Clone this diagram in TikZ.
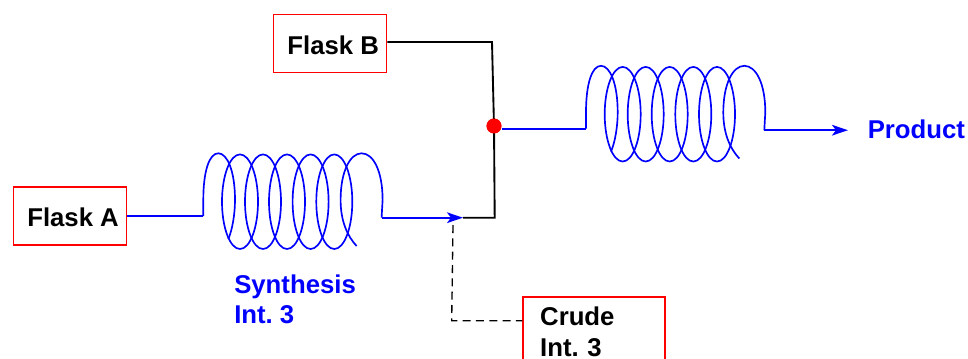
\documentclass[tikz,border=0pt]{standalone}
\usepackage{fontspec}
\setmainfont{Liberation Sans}
\usetikzlibrary{arrows.meta}
\frenchspacing
\tikzset{
  boxnode/.style={draw=red,line width=1.2pt,fill=white,inner sep=0pt,font=\fontsize{19.3}{23.4}\selectfont\bfseries,text=black},
  bluelabel/.style={inner sep=0pt,anchor=base west,text=blue,font=\fontsize{19.3}{23.6}\selectfont\bfseries,align=left},
  blueline/.style={draw=blue,line width=1.5pt},
  blackline/.style={draw=black,line width=1.4pt},
  coilline/.style={draw=blue,line width=1.25pt},
  tip/.style={-{Stealth[length=12pt,width=8pt,inset=3pt]}},
  coil/.pic={
    \coordinate (-in) at (0,0);
    \coordinate (-out) at (178.3,1.7);
    \draw[coilline,line join=miter] (0,0) -- (0,-16) .. controls (0,-45) and (6,-62.7) .. (15,-62.7) .. controls (24,-62.7) and (31.7,-45) .. (31.7,-16) .. controls (31.7,-2) and (29,14) .. (25,23);
    \foreach \cx in {36.7,59.7,83.7,107.3,131}{
      \draw[coilline] (\cx,-14.3) ellipse (18 and 47.3);
    }
    \draw[coilline] (153.3,30) .. controls (144,20) and (137.3,5) .. (137.3,-16) .. controls (137.3,-45) and (147,-62.7) .. (158.3,-62.7) .. controls (170,-62.7) and (179.3,-45) .. (179.3,-16) -- (178.3,1.7);
  }
}
\begin{document}
\begin{tikzpicture}[x=0.75pt,y=-0.75pt]
\useasboundingbox (0,0) rectangle (968,358);
\clip (0,0) rectangle (968,358);
% boxes
\node[boxnode,minimum width=84.9pt,minimum height=43.5pt] (flaskA) at (70,216) {\hspace*{4.6pt}\raisebox{-8.2pt}[0pt][0pt]{Flask A}};
\node[boxnode,minimum width=84.9pt,minimum height=43.5pt] (flaskB) at (330,43.5) {\hspace*{4.8pt}\raisebox{-8.6pt}[0pt][0pt]{Flask B}};
\node[boxnode,anchor=north west,text width=81pt,inner xsep=12.8pt,inner ysep=7.6pt,align=left] (crude) at (522.3,296) {Crude\\Int. 3};
% coils
\pic (c1) at (203.3,216) {coil};
\pic (c2) at (586,128.5) {coil};
% junction and way points
\node[circle,fill=red,inner sep=0pt,minimum size=11.2pt] (mix) at (494,126) {};
\coordinate (c1tip) at (463,217.7);
\coordinate (corner) at (494.7,217.7);
\coordinate (bcorner) at (492,42);
\coordinate (ptip) at (848,130.2);
\coordinate (dstart) at (453,225);
\coordinate (dcorner) at (451.7,320.7);
% connectors
\draw[blueline] (flaskA.east |- c1-in) -- (c1-in);
\draw[blackline] (flaskB.east |- bcorner) -- (bcorner) -- (mix.center);
\draw[blackline] (c1tip) -- (corner) -- (mix.center);
\draw[blueline,tip] (c1-out) -- (c1tip);
\draw[blueline] (mix.east |- c2-in) -- (c2-in);
\draw[blueline,tip] (c2-out) -- (ptip);
\draw[black,line width=1pt,dash pattern=on 6pt off 4pt] (dstart) -- (dcorner) -- (crude.west |- dcorner);
\node[circle,fill=red,inner sep=0pt,minimum size=11.2pt] at (mix) {};
% labels
\node[bluelabel] (syn) at (234,293) {Synthesis};
\node[bluelabel] (int) at (234,323.5) {Int. 3};
\node[bluelabel] (prod) at (867.5,138) {Product};
\end{tikzpicture}
\end{document}
